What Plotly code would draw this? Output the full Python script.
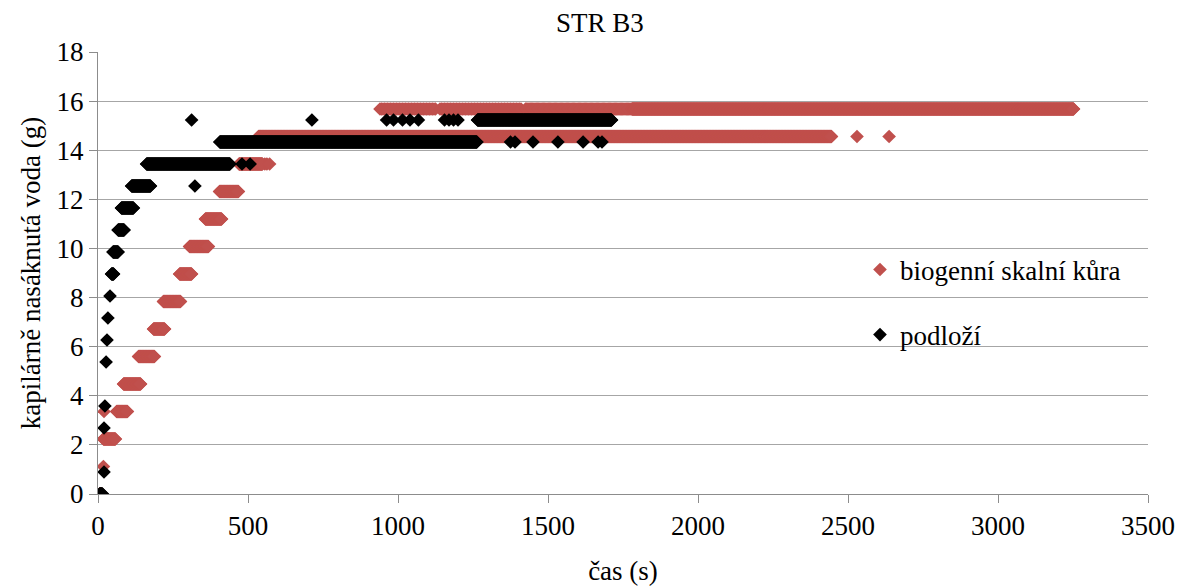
import numpy as np
import plotly.graph_objects as go

# ---- data: runs of constant reading (level in g, first and last time in s, logging step in s)
red_name = "biogenní skalní kůra"
red_level = [0.00, 1.12, 2.24, 3.36, 3.36, 4.48, 5.60, 6.72, 7.84, 8.96, 10.08, 11.20, 12.32,
             13.44, 13.44, 13.44, 13.44, 14.56, 14.56, 14.56,
             15.68, 15.68, 15.68, 15.68]
red_start = [5, 18, 18, 20, 62, 85, 135, 185, 218, 272, 305, 358, 405,
             470, 556, 563, 572, 535, 2530, 2637,
             940, 1140, 1425, 1780]
red_end = [12, 18, 58, 20, 98, 142, 188, 222, 275, 312, 368, 412, 468,
           548, 556, 563, 572, 2445, 2530, 2637,
           1125, 1410, 1780, 3252]
red_step = [1, 1, 1, 1, 1, 1, 1, 1, 1, 1, 1, 1, 1,
            1, 1, 1, 1, 1, 1, 1,
            5, 5, 4, 1]

black_name = "podloží"
black_level = [0.000, 0.896, 2.688, 3.584, 5.376, 6.272, 7.168, 8.064, 8.960, 9.856, 10.752,
               11.648, 12.544, 12.544, 13.440, 13.440, 13.440,
               14.336, 14.336, 14.336, 14.336, 14.336, 14.336, 14.336, 14.336,
               15.232, 15.232, 15.232, 15.232, 15.232, 15.232, 15.232, 15.232, 15.232, 15.232, 15.232, 15.232]
black_start = [5, 20, 20, 23, 27, 30, 33, 40, 45, 50, 67,
               78, 112, 323, 162, 480, 507,
               406, 1375, 1390, 1450, 1533, 1617, 1667, 1680,
               312, 713, 962, 985, 1015, 1040, 1068, 1155, 1170, 1185, 1200, 1265]
black_end = [15, 20, 20, 23, 27, 30, 33, 40, 52, 67, 87,
             118, 175, 323, 440, 480, 507,
             1263, 1375, 1390, 1450, 1533, 1617, 1667, 1680,
             312, 713, 962, 985, 1015, 1040, 1068, 1155, 1170, 1185, 1200, 1712]
black_step = [1] * len(black_level)

y_ticks = [0, 2, 4, 6, 8, 10, 12, 14, 16, 18]
x_ticks = [0, 500, 1000, 1500, 2000, 2500, 3000, 3500]


def expand(levels, starts, ends, steps):
    xs, ys = [], []
    for lv, s, e, st in zip(levels, starts, ends, steps):
        t = np.arange(s, e + 1, st)
        xs.append(t)
        ys.append(np.full(len(t), lv))
    return np.concatenate(xs), np.concatenate(ys)


rx, ry = expand(red_level, red_start, red_end, red_step)
bx, by = expand(black_level, black_start, black_end, black_step)

FONT = "Times New Roman"
MS = 10.5

fig = go.Figure()
fig.add_trace(go.Scatter(x=rx, y=ry, mode="markers", name=red_name,
                         marker=dict(symbol="diamond", size=MS, color="#C0504D", line=dict(width=0)),
                         legend="legend"))
fig.add_trace(go.Scatter(x=bx, y=by, mode="markers", name=black_name,
                         marker=dict(symbol="diamond", size=MS, color="#000000", line=dict(width=0)),
                         legend="legend2"))

fig.update_layout(
    width=1188, height=588,
    margin=dict(l=98, r=40, t=52, b=94, autoexpand=False),
    paper_bgcolor="white", plot_bgcolor="white",
    font=dict(family=FONT, size=27, color="#000000"),
    title=dict(text="STR B3", x=0.505, xanchor="center", y=0.962, yanchor="middle",
               font=dict(family=FONT, size=27)),
    legend=dict(x=0.7257, xanchor="left", y=0.5068, yanchor="middle",
                bgcolor="rgba(0,0,0,0)", font=dict(family=FONT, size=27),
                itemwidth=30),
    legend2=dict(x=0.7257, xanchor="left", y=0.3597, yanchor="middle",
                 bgcolor="rgba(0,0,0,0)", font=dict(family=FONT, size=27),
                 itemwidth=30),
    showlegend=True,
)

fig.update_xaxes(range=[0, 3500], tickvals=x_ticks, ticktext=[str(v) for v in x_ticks],
                 showgrid=False, zeroline=False, automargin=False,
                 showline=True, linecolor="#8C8C8C", linewidth=1,
                 ticks="outside", ticklen=8, tickcolor="#8C8C8C",
                 title=dict(text="čas (s)", standoff=20, font=dict(family=FONT, size=27)))
fig.update_yaxes(range=[0, 18], tickvals=y_ticks, ticktext=[str(v) for v in y_ticks],
                 showgrid=True, gridcolor="#A6A6A6", gridwidth=1, zeroline=False, automargin=False,
                 showline=True, linecolor="#8C8C8C", linewidth=1,
                 ticks="outside", ticklen=8, tickcolor="#8C8C8C",
                 title=dict(text="kapilárně nasáknutá voda (g)", standoff=8,
                            font=dict(family=FONT, size=27)))

fig.write_html("out.html")
